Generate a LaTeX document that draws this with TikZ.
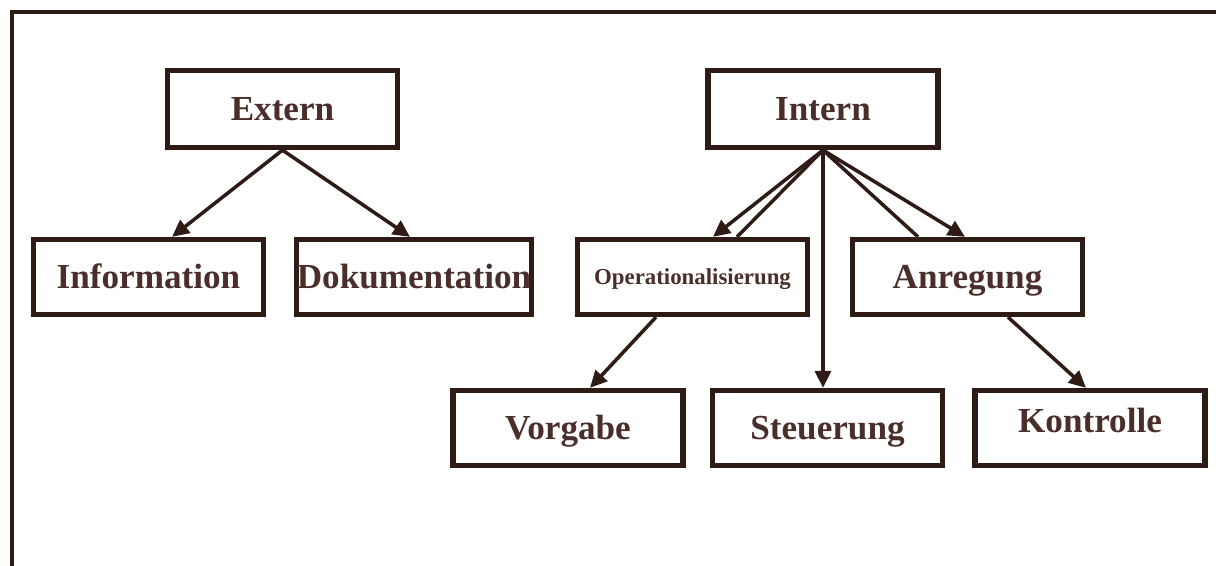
\documentclass[tikz,border=0pt]{standalone}
\usepackage{fontspec}
\setmainfont{Liberation Serif}
\usepackage{tikz}
\usetikzlibrary{positioning,calc,arrows.meta}

\definecolor{linebrown}{HTML}{2E1B15}
\definecolor{textbrown}{HTML}{4A2E29}

\begin{document}
\begin{tikzpicture}[
			box/.style={rectangle, draw=linebrown, line width=3pt, minimum width=4.6cm, minimum height=1.5cm, inner sep=0, text height=14pt, text depth=1pt, text=textbrown, font=\fontsize{20}{24}\selectfont\bfseries},
			topbox/.style={box, minimum height=1.54cm},
			arrow/.style={draw=linebrown, line width=2pt, -{Triangle[length=0.34cm, width=0.32cm]}},
			line/.style={draw=linebrown, line width=2pt},
			frame/.style={draw=linebrown, line width=2.8pt}]
			
			\useasboundingbox (0,0) rectangle (24.32,-11.32);
			\draw[frame] (24.32,-0.24) -- (0.24,-0.24) -- (0.24,-11.32);
			
			% first level
			\node[topbox] (ext) at (5.65,-2.18) {Extern};
			\node[topbox] (int) at (16.46,-2.18) {Intern};
			
			% second level
			\node[box] (info) at (2.97,-5.54) {Information};
			\node[box] (doku) at (8.28,-5.54) {Dokumentation};
			\node[box, text height=9.5pt, font=\fontsize{13}{16}\selectfont\bfseries] (oper) at (13.85,-5.54) {Operationalisierung};
			\node[box] (anr) at (19.35,-5.54) {Anregung};
			
			% third level
			\node[box] (vorg) at (11.36,-8.56) {Vorgabe};
			\node[box] (steu) at (16.55,-8.56) {Steuerung};
			\node[box] (kon) at (21.8,-8.56) {\raisebox{4pt}{Kontrolle}};
			
			\draw[arrow] (ext.south) -- ([xshift=0.47cm]info.north);
			\draw[arrow] (ext.south) -- ([xshift=-0.08cm]doku.north);
			
			\draw[arrow] (int.south) -- ([xshift=0.41cm]oper.north);
			\draw[line] (int.south) -- ([xshift=0.89cm]oper.north);
			\draw[arrow] (int.south) -- ([xshift=-0.09cm]steu.north);
			\draw[line] (int.south) -- ([xshift=-0.99cm]anr.north);
			\draw[arrow] (int.south) -- ([xshift=-0.05cm]anr.north);
			
			\draw[arrow] ([xshift=-0.73cm]oper.south) -- ([xshift=0.44cm]vorg.north);
			\draw[arrow] ([xshift=0.81cm]anr.south) -- ([xshift=-0.08cm]kon.north);
		\end{tikzpicture}
\end{document}
